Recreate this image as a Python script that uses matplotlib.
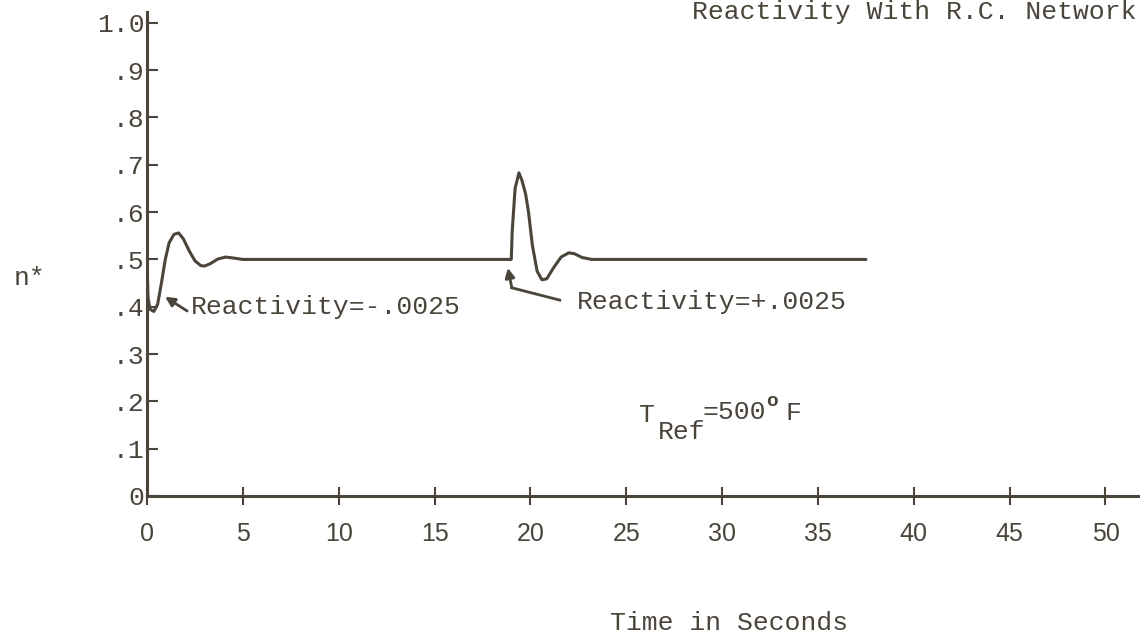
import matplotlib
matplotlib.use("Agg")
import matplotlib.pyplot as plt

# values
t = [0.0, 0.05, 0.15, 0.35, 0.55, 0.75, 0.95, 1.15, 1.4, 1.65, 1.9, 2.2, 2.5,
     2.8, 3.0, 3.3, 3.7, 4.1, 4.5, 5.0, 6.0, 19.0, 19.05, 19.2, 19.4, 19.55,
     19.75, 19.9, 20.1, 20.35, 20.6, 20.85, 21.2, 21.6, 22.0, 22.3, 22.7,
     23.2, 24.0, 37.5]
n = [0.50, 0.42, 0.395, 0.39, 0.405, 0.45, 0.50, 0.535, 0.553, 0.556, 0.543,
     0.518, 0.497, 0.487, 0.486, 0.491, 0.501, 0.505, 0.503, 0.500, 0.500,
     0.500, 0.56, 0.65, 0.683, 0.668, 0.638, 0.60, 0.53, 0.475, 0.457, 0.459,
     0.482, 0.505, 0.514, 0.512, 0.504, 0.500, 0.500, 0.500]

xticks = [0, 5, 10, 15, 20, 25, 30, 35, 40, 45, 50]
yticks = [0, 0.1, 0.2, 0.3, 0.4, 0.5, 0.6, 0.7, 0.8, 0.9, 1.0]
ylabels = ['0', '.1', '.2', '.3', '.4', '.5', '.6', '.7', '.8', '.9', '1.0']

ink = '#4a443b'
mono = 'Liberation Mono'

fig = plt.figure(figsize=(11.4, 6.38), dpi=100)
ax = fig.add_axes([0.129, 0.2226, 0.871, 0.7586])

ax.plot(t, n, color=ink, lw=2.2, solid_capstyle='round')

ax.set_xlim(0, 51.8)
ax.set_ylim(0, 1.023)
ax.spines['top'].set_visible(False)
ax.spines['right'].set_visible(False)
for s in ['left', 'bottom']:
    ax.spines[s].set_color(ink)
    ax.spines[s].set_linewidth(2.2)

ax.set_xticks(xticks)
ax.set_xticklabels([str(v) for v in xticks], family='Liberation Sans',
                   fontsize=18, color=ink)
ax.set_yticks(yticks)
ax.set_yticklabels(ylabels, family=mono, fontsize=19, color=ink)
ax.tick_params(axis='x', direction='inout', length=13, width=1.5,
               color=ink, pad=12)
ax.tick_params(axis='y', direction='in', length=8, width=1.5,
               color=ink, pad=2)

# annotations
ax.annotate('', xy=(0.94, 0.421), xytext=(2.09, 0.391),
            arrowprops=dict(arrowstyle='-|>', color=ink, lw=2,
                            mutation_scale=14, shrinkA=0, shrinkB=0))
ax.text(2.29, 0.40, 'Reactivity=-.0025', family=mono, fontsize=19,
        color=ink, va='center', ha='left')

ax.plot([21.53, 19.03], [0.414, 0.44], color=ink, lw=2)
ax.annotate('', xy=(18.82, 0.482), xytext=(19.03, 0.44),
            arrowprops=dict(arrowstyle='-|>', color=ink, lw=2,
                            mutation_scale=14, shrinkA=0, shrinkB=0))
ax.text(22.4, 0.41, 'Reactivity=+.0025', family=mono, fontsize=19,
        color=ink, va='center', ha='left')

ax.text(26.1, 0.171, 'T', family=mono, fontsize=19, color=ink,
        ha='center', va='center')
ax.text(26.64, 0.135, 'Ref', family=mono, fontsize=19, color=ink,
        ha='left', va='center')
ax.text(28.99, 0.178, '=500', family=mono, fontsize=19, color=ink,
        ha='left', va='center')
ax.text(32.6, 0.199, 'o', family=mono, fontsize=14, color=ink,
        ha='center', va='center', fontweight='bold')
ax.text(33.3, 0.175, 'F', family=mono, fontsize=19, color=ink,
        ha='left', va='center')

fig.text(692 / 1140, 1 - 12 / 638, 'Reactivity With R.C. Network',
         family=mono, fontsize=19, color=ink, ha='left', va='center')
fig.text(30 / 1140, 1 - 278 / 638, 'n*', family=mono, fontsize=19,
         color=ink, ha='center', va='center')
fig.text(729 / 1140, 1 - 623 / 638, 'Time in Seconds', family=mono,
         fontsize=19, color=ink, ha='center', va='center')

fig.savefig('out.png', dpi=100)
